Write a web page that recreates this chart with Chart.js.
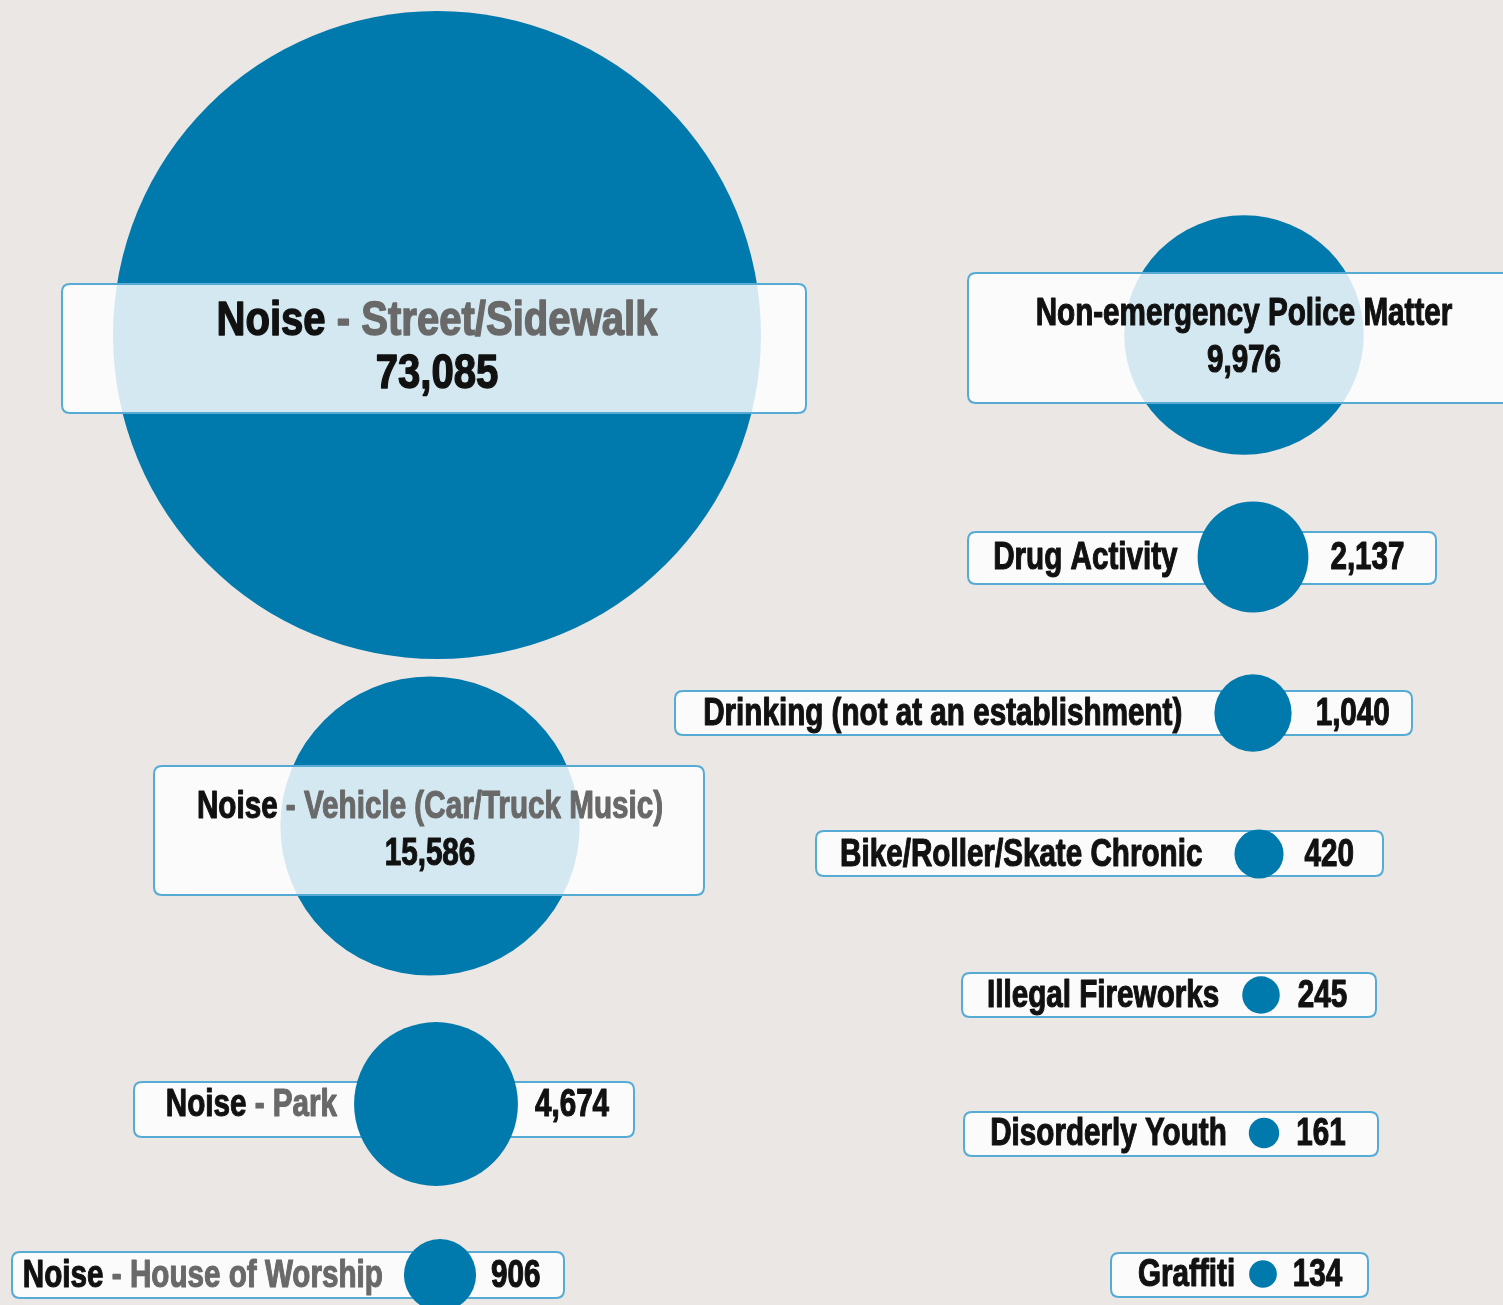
<!DOCTYPE html>
<html>
<head>
<meta charset="utf-8">
<title>Quality-of-life complaints</title>
<script src="https://cdn.jsdelivr.net/npm/chart.js@4/dist/chart.umd.min.js"></script>
<style>
  html, body { margin: 0; padding: 0; background: #ebe7e4; }
  canvas { display: block; }
</style>
</head>
<body>
<canvas id="chart" width="1503" height="1305"></canvas>
<script>
// Complaint types: black lead word, optional grey detail after " - "
const categories = [
  "Noise - Street/Sidewalk",
  "Noise - Vehicle (Car/Truck Music)",
  "Non-emergency Police Matter",
  "Noise - Park",
  "Drug Activity",
  "Drinking (not at an establishment)",
  "Noise - House of Worship",
  "Bike/Roller/Skate Chronic",
  "Illegal Fireworks",
  "Disorderly Youth",
  "Graffiti"
];

// Number of complaints per type
const complaints = [73085, 15586, 9976, 4674, 2137, 1040, 906, 420, 245, 161, 134];

// Placement of each bubble on the page grid (chart units)
const placeX = [437, 430, 1244, 436, 1253, 1253, 440, 1259, 1261, 1264, 1263];
const placeY = [335, 826, 335, 1104, 557, 713, 1275, 854, 995, 1133, 1274];

// Label panels [left, right, top, bottom]; the first three are two-line callouts laid over the bubble
const panels = [
  [62, 806, 284, 413],
  [154, 704, 766, 895],
  [968, 1520, 273, 403],
  [134, 634, 1082, 1137],
  [968, 1436, 532, 584],
  [675, 1412, 691, 735],
  [12, 564, 1252, 1298],
  [816, 1383, 831, 876],
  [962, 1376, 973, 1017],
  [964, 1378, 1112, 1156],
  [1111, 1368, 1253, 1297]
];
const calloutCount = 3;
// Space between a one-line strip's name / count and the bubble edge
const nameGap  = [0, 0, 0, 17, 20, 32, 21, 32, 23, 22, 14];
const valueGap = [0, 0, 0, 17, 22, 24, 15, 21, 18, 17, 16];

const MAX_RADIUS = 324;             // radius of the largest bubble, chart units
const maxValue = Math.max(...complaints);
const BLUE = '#0079ad';
const PANEL_FILL = 'rgba(255,255,255,0.83)';
const PANEL_EDGE = '#56abd4';
const FONT = '"Liberation Sans", Arial, sans-serif';

function fmt(v) { return v.toLocaleString('en-US'); }

function splitLabel(label) {
  const i = label.indexOf(' - ');
  if (i < 0) return [{ t: label, c: '#111' }];
  return [{ t: label.slice(0, i), c: '#111' }, { t: label.slice(i), c: '#696969' }];
}

// Condensed heavy text: Liberation Sans bold squeezed horizontally
function textWidth(ctx, parts, size, sx) {
  ctx.font = `bold ${size}px ${FONT}`;
  return parts.reduce((w, p) => w + ctx.measureText(p.t).width, 0) * sx;
}
function drawParts(ctx, parts, x, y, align, size, sx) {
  const w = textWidth(ctx, parts, size, sx);
  let start = x;
  if (align === 'center') start = x - w / 2;
  else if (align === 'right') start = x - w;
  ctx.save();
  ctx.font = `bold ${size}px ${FONT}`;
  ctx.textBaseline = 'middle';
  ctx.textAlign = 'left';
  ctx.lineJoin = 'round';
  ctx.lineWidth = size * 0.03;
  ctx.translate(start, y);
  ctx.scale(sx, 1);
  let off = 0;
  for (const p of parts) {
    ctx.fillStyle = p.c;
    ctx.strokeStyle = p.c;
    ctx.fillText(p.t, off, 0);
    ctx.strokeText(p.t, off, 0);
    off += ctx.measureText(p.t).width;
  }
  ctx.restore();
  return w;
}

function roundRect(ctx, x0, y0, x1, y1, rad) {
  ctx.beginPath();
  ctx.moveTo(x0 + rad, y0);
  ctx.lineTo(x1 - rad, y0);
  ctx.quadraticCurveTo(x1, y0, x1, y0 + rad);
  ctx.lineTo(x1, y1 - rad);
  ctx.quadraticCurveTo(x1, y1, x1 - rad, y1);
  ctx.lineTo(x0 + rad, y1);
  ctx.quadraticCurveTo(x0, y1, x0, y1 - rad);
  ctx.lineTo(x0, y0 + rad);
  ctx.quadraticCurveTo(x0, y0, x0 + rad, y0);
  ctx.closePath();
}
function drawPanel(chart, i) {
  const ctx = chart.ctx, xs = chart.scales.x, ys = chart.scales.y;
  const p = panels[i];
  const box = [xs.getPixelForValue(p[0]), ys.getPixelForValue(p[2]),
               xs.getPixelForValue(p[1]), ys.getPixelForValue(p[3])];
  ctx.save();
  roundRect(ctx, box[0], box[1], box[2], box[3], 8);
  ctx.fillStyle = PANEL_FILL;
  ctx.fill();
  ctx.lineWidth = 2;
  ctx.strokeStyle = PANEL_EDGE;
  ctx.stroke();
  ctx.restore();
  return box;
}

const INLINE_SIZE = 39, INLINE_SX = 0.76;

const labelPlugin = {
  id: 'labelStrips',
  // one-line strips sit underneath their bubble
  beforeDatasetsDraw(chart) {
    categories.forEach((c, i) => { if (i >= calloutCount) drawPanel(chart, i); });
  },
  // callout panels are laid over their bubble; all text goes on top
  afterDatasetsDraw(chart) {
    const ctx = chart.ctx;
    const meta = chart.getDatasetMeta(0);
    categories.forEach((c, i) => {
      const el = meta.data[i];
      const r = el.options.radius;
      const value = [{ t: fmt(complaints[i]), c: '#111' }];
      if (i < calloutCount) {
        const box = drawPanel(chart, i);
        const big = complaints[i] === maxValue;
        const size = big ? 48 : 38, sx = big ? 0.835 : 0.78;
        const mid = (box[1] + box[3]) / 2;
        drawParts(ctx, splitLabel(c), el.x, mid - (big ? 27 : 23), 'center', size, sx);
        drawParts(ctx, value, el.x, mid + (big ? 26 : 24), 'center', size, sx);
      } else {
        drawParts(ctx, splitLabel(c), el.x - r - nameGap[i], el.y + 1, 'right', INLINE_SIZE, INLINE_SX);
        drawParts(ctx, value, el.x + r + valueGap[i], el.y + 1, 'left', INLINE_SIZE, INLINE_SX);
      }
    });
  }
};

new Chart(document.getElementById('chart'), {
  type: 'bubble',
  data: {
    labels: categories,
    datasets: [{
      label: 'Complaints',
      data: complaints.map((v, i) => ({
        x: placeX[i],
        y: placeY[i],
        r: MAX_RADIUS * Math.sqrt(v / maxValue)   // area proportional to count
      })),
      backgroundColor: BLUE,
      borderWidth: 0,
      hoverRadius: 0,
      hoverBorderWidth: 0,
      hoverBackgroundColor: BLUE,
      clip: false
    }]
  },
  options: {
    responsive: false,
    animation: false,
    events: [],
    layout: { padding: 0, autoPadding: false },
    plugins: { legend: { display: false }, tooltip: { enabled: false } },
    scales: {
      x: { type: 'linear', min: 0, max: 1503, display: false },
      y: { type: 'linear', min: 0, max: 1305, reverse: true, display: false }
    }
  },
  plugins: [labelPlugin]
});
</script>
</body>
</html>
